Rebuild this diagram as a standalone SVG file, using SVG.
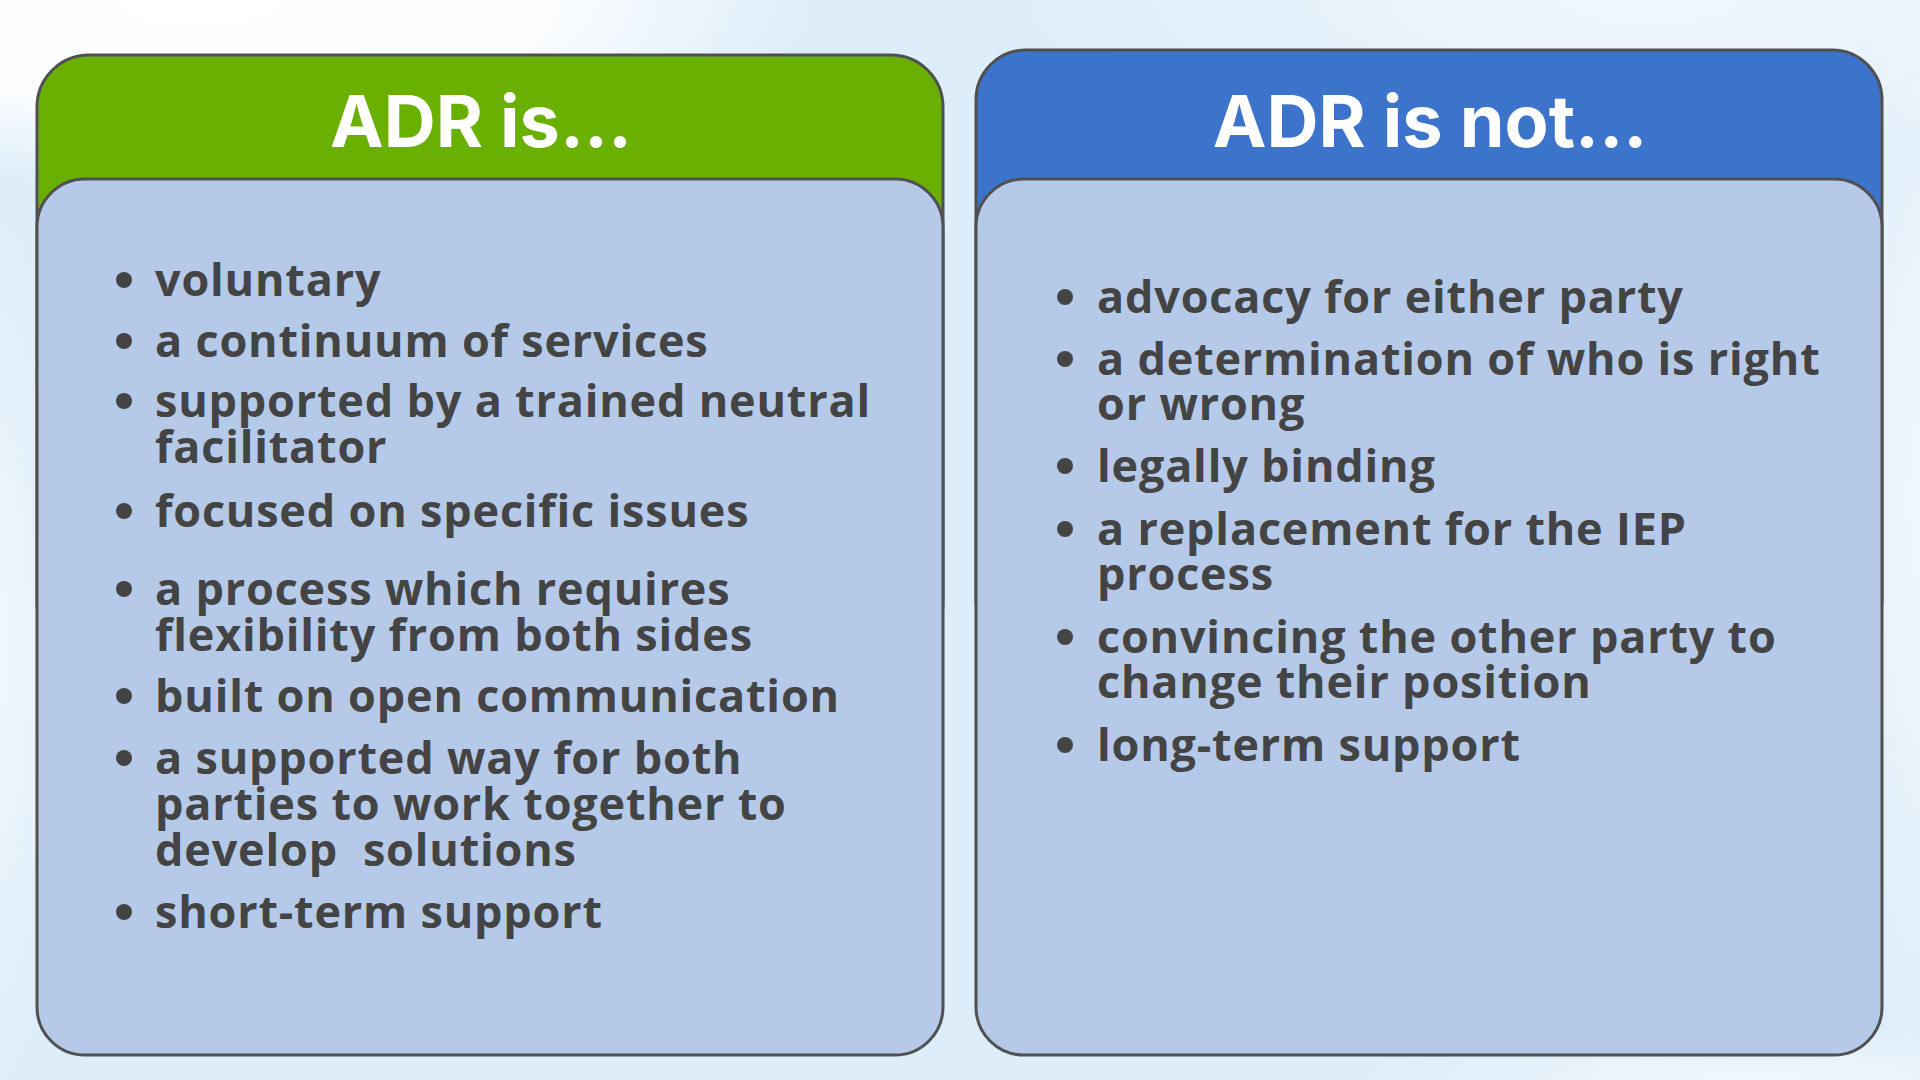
<svg xmlns="http://www.w3.org/2000/svg" width="1920" height="1080" viewBox="0 0 1920 1080">
<style>
.title{font-family:Inter,"Liberation Sans",sans-serif;font-weight:700;font-size:72px;fill:#ffffff;text-anchor:middle}
.item{font-family:"Open Sans","Noto Sans","Liberation Sans",sans-serif;font-weight:700;font-size:45px;letter-spacing:0.8px;fill:#444444;white-space:pre}
.frame{stroke:#505050;stroke-width:3}
.body{fill:#B5CAE9}
.dot{fill:#444444}
</style>
<defs>
<radialGradient id="glowTL" cx="0.5" cy="0.5" r="0.5">
<stop offset="0" stop-color="#ffffff" stop-opacity="1"/>
<stop offset="0.55" stop-color="#ffffff" stop-opacity="0.9"/>
<stop offset="1" stop-color="#ffffff" stop-opacity="0"/>
</radialGradient>
<radialGradient id="glowSoft" cx="0.5" cy="0.5" r="0.5">
<stop offset="0" stop-color="#ffffff" stop-opacity="0.6"/>
<stop offset="1" stop-color="#ffffff" stop-opacity="0"/>
</radialGradient>
</defs>
<g id="background">
<rect x="0" y="0" width="1920" height="1080" fill="#DDEDFA"/>
<ellipse cx="200" cy="0" rx="620" ry="190" fill="url(#glowTL)"/>
<ellipse cx="1650" cy="0" rx="650" ry="170" fill="url(#glowSoft)"/>
<ellipse cx="1920" cy="500" rx="90" ry="600" fill="url(#glowSoft)"/>
<ellipse cx="0" cy="650" rx="70" ry="450" fill="url(#glowSoft)"/>
<ellipse cx="1750" cy="1080" rx="400" ry="60" fill="url(#glowSoft)"/>
</g>
<g id="adr-is">
<rect class="frame" x="37" y="55" width="906" height="600" rx="52" ry="52" fill="#6AB000"/>
<text class="title" x="481" y="147">ADR is...</text>
<rect class="frame body" x="37" y="179" width="906" height="876" rx="48" ry="48"/>
<circle class="dot" cx="124" cy="280" r="8"/>
<circle class="dot" cx="124" cy="341" r="8"/>
<circle class="dot" cx="124" cy="401" r="8"/>
<circle class="dot" cx="124" cy="511" r="8"/>
<circle class="dot" cx="124" cy="589" r="8"/>
<circle class="dot" cx="124" cy="696" r="8"/>
<circle class="dot" cx="124" cy="758" r="8"/>
<circle class="dot" cx="124" cy="912" r="8"/>
<text class="item" x="155" y="296">voluntary</text>
<text class="item" x="155" y="357">a continuum of services</text>
<text class="item" x="155" y="417">supported by a trained neutral<tspan x="155" y="463">facilitator</tspan></text>
<text class="item" x="155" y="527">focused on specific issues</text>
<text class="item" x="155" y="605">a process which requires<tspan x="155" y="651">flexibility from both sides</tspan></text>
<text class="item" x="155" y="712">built on open communication</text>
<text class="item" x="155" y="774">a supported way for both<tspan x="155" y="820">parties to work together to</tspan><tspan x="155" y="866">develop  solutions</tspan></text>
<text class="item" x="155" y="928">short-term support</text>
</g>
<g id="adr-is-not">
<rect class="frame" x="976" y="50" width="906" height="600" rx="50" ry="50" fill="#3C74CB"/>
<text class="title" x="1430" y="147">ADR is not...</text>
<rect class="frame body" x="976" y="179" width="906" height="876" rx="48" ry="48"/>
<circle class="dot" cx="1065" cy="297" r="8"/>
<circle class="dot" cx="1065" cy="359" r="8"/>
<circle class="dot" cx="1065" cy="466" r="8"/>
<circle class="dot" cx="1065" cy="529" r="8"/>
<circle class="dot" cx="1065" cy="637" r="8"/>
<circle class="dot" cx="1065" cy="745" r="8"/>
<text class="item" x="1097" y="313">advocacy for either party</text>
<text class="item" x="1097" y="375">a determination of who is right<tspan x="1097" y="420">or wrong</tspan></text>
<text class="item" x="1097" y="482">legally binding</text>
<text class="item" x="1097" y="545">a replacement for the IEP<tspan x="1097" y="590">process</tspan></text>
<text class="item" x="1097" y="653">convincing the other party to<tspan x="1097" y="698">change their position</tspan></text>
<text class="item" x="1097" y="761">long-term support</text>
</g>
<g id="connectors"/>
</svg>
